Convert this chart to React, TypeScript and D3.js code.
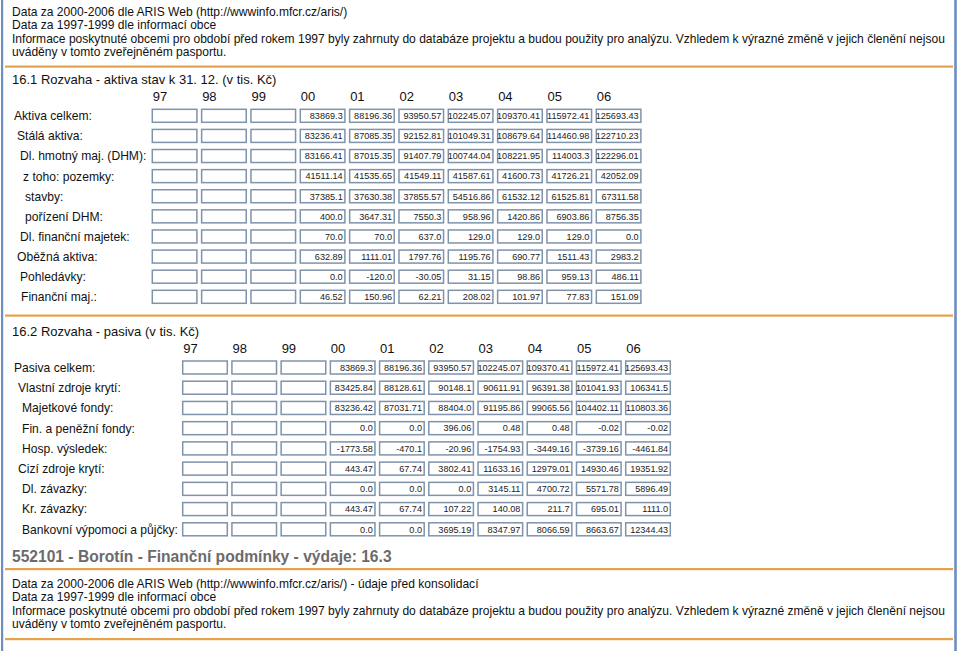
import React from "react";
import * as d3 from "d3";

const years = ["97", "98", "99", "00", "01", "02", "03", "04", "05", "06"];

const introLines = [
  "Data za 2000-2006 dle ARIS Web (http://wwwinfo.mfcr.cz/aris/)",
  "Data za 1997-1999 dle informací obce",
  "Informace poskytnuté obcemi pro období před rokem 1997 byly zahrnuty do databáze projektu a budou použity pro analýzu. Vzhledem k výrazné změně v jejich členění nejsou",
  "uváděny v tomto zveřejněném pasportu.",
];

const outroLines = [
  "Data za 2000-2006 dle ARIS Web (http://wwwinfo.mfcr.cz/aris/) - údaje před konsolidací",
  "Data za 1997-1999 dle informací obce",
  "Informace poskytnuté obcemi pro období před rokem 1997 byly zahrnuty do databáze projektu a budou použity pro analýzu. Vzhledem k výrazné změně v jejich členění nejsou",
  "uváděny v tomto zveřejněném pasportu.",
];

const title1 = "16.1 Rozvaha - aktiva stav k 31. 12. (v tis. Kč)";
const title2 = "16.2 Rozvaha - pasiva (v tis. Kč)";
const title3 = "552101 - Borotín - Finanční podmínky - výdaje: 16.3";

const aktivaLabels = [
  "Aktiva celkem:",
  "Stálá aktiva:",
  "Dl. hmotný maj. (DHM):",
  "z toho: pozemky:",
  "stavby:",
  "pořízení DHM:",
  "Dl. finanční majetek:",
  "Oběžná aktiva:",
  "Pohledávky:",
  "Finanční maj.:",
];
const aktivaIndent = [0, 3, 6, 9, 11, 11, 6, 3, 6, 7];

const aktivaValues: (number | null)[][] = [
  [null, null, null, 83869.3, 88196.36, 93950.57, 102245.07, 109370.41, 115972.41, 125693.43],
  [null, null, null, 83236.41, 87085.35, 92152.81, 101049.31, 108679.64, 114460.98, 122710.23],
  [null, null, null, 83166.41, 87015.35, 91407.79, 100744.04, 108221.95, 114003.3, 122296.01],
  [null, null, null, 41511.14, 41535.65, 41549.11, 41587.61, 41600.73, 41726.21, 42052.09],
  [null, null, null, 37385.1, 37630.38, 37855.57, 54516.86, 61532.12, 61525.81, 67311.58],
  [null, null, null, 400.0, 3647.31, 7550.3, 958.96, 1420.86, 6903.86, 8756.35],
  [null, null, null, 70.0, 70.0, 637.0, 129.0, 129.0, 129.0, 0.0],
  [null, null, null, 632.89, 1111.01, 1797.76, 1195.76, 690.77, 1511.43, 2983.2],
  [null, null, null, 0.0, -120.0, -30.05, 31.15, 98.86, 959.13, 486.11],
  [null, null, null, 46.52, 150.96, 62.21, 208.02, 101.97, 77.83, 151.09],
];

const pasivaLabels = [
  "Pasiva celkem:",
  "Vlastní zdroje krytí:",
  "Majetkové fondy:",
  "Fin. a peněžní fondy:",
  "Hosp. výsledek:",
  "Cizí zdroje krytí:",
  "Dl. závazky:",
  "Kr. závazky:",
  "Bankovní výpomoci a půjčky:",
];
const pasivaIndent = [0, 4, 8, 8, 8, 4, 8, 8, 8];

const pasivaValues: (number | null)[][] = [
  [null, null, null, 83869.3, 88196.36, 93950.57, 102245.07, 109370.41, 115972.41, 125693.43],
  [null, null, null, 83425.84, 88128.61, 90148.1, 90611.91, 96391.38, 101041.93, 106341.5],
  [null, null, null, 83236.42, 87031.71, 88404.0, 91195.86, 99065.56, 104402.11, 110803.36],
  [null, null, null, 0.0, 0.0, 396.06, 0.48, 0.48, -0.02, -0.02],
  [null, null, null, -1773.58, -470.1, -20.96, -1754.93, -3449.16, -3739.16, -4461.84],
  [null, null, null, 443.47, 67.74, 3802.41, 11633.16, 12979.01, 14930.46, 19351.92],
  [null, null, null, 0.0, 0.0, 0.0, 3145.11, 4700.72, 5571.78, 5896.49],
  [null, null, null, 443.47, 67.74, 107.22, 140.08, 211.7, 695.01, 1111.0],
  [null, null, null, 0.0, 0.0, 3695.19, 8347.97, 8066.59, 8663.67, 12344.43],
];

const FONT = "'Liberation Sans', Arial, Helvetica, sans-serif";
const ORANGE = "#e5a24c";
const BLUE = "#6d8fbf";
const BOX = "#7f93ab";

const fmt = (v: number) => {
  const s = String(v);
  return s.includes(".") ? s : s + ".0";
};

type TableProps = {
  labels: string[];
  indents: number[];
  values: (number | null)[][];
  x0: number;
  x1: number;
  y0: number;
  y1: number;
  headerY: number;
  labelX: number;
};

function Table({ labels, indents, values, x0, x1, y0, y1, headerY, labelX }: TableProps) {
  const x = d3.scalePoint<string>().domain(years).range([x0, x1]);
  const y = d3.scalePoint<string>().domain(labels).range([y0, y1]);
  const bw = 44.6;
  const bh = 13;
  return (
    <g>
      {years.map((yr) => (
        <text key={yr} x={x(yr)! + 0.5} y={headerY} fontSize={13} fontFamily={FONT} fill="#111">
          {yr}
        </text>
      ))}
      {labels.map((lab, i) => {
        const cy = y(lab)!;
        return (
          <g key={lab}>
            <text x={labelX + indents[i]} y={cy + 4.4} fontSize={12.1} fontFamily={FONT} fill="#111">
              {lab}
            </text>
            {years.map((yr, j) => {
              const v = values[i][j];
              const bx = x(yr)!;
              return (
                <g key={yr}>
                  <rect
                    x={bx}
                    y={cy - bh / 2}
                    width={bw}
                    height={bh}
                    fill="#fff"
                    stroke={BOX}
                    strokeWidth={1.5}
                  />
                  {v !== null && (
                    <text
                      x={bx + bw - 2.2}
                      y={cy + 3.3}
                      fontSize={9.1}
                      fontFamily={FONT}
                      textAnchor="end"
                      fill="#222"
                    >
                      {fmt(v)}
                    </text>
                  )}
                </g>
              );
            })}
          </g>
        );
      })}
    </g>
  );
}

export default function App() {
  const W = 960;
  const H = 651;
  const introBase = [15.5, 29, 42.5, 56];
  const outroBase = [587.5, 601, 614.5, 628];
  return (
    <svg
      width={W}
      height={H}
      style={{ position: "absolute", left: 0, top: 0, background: "#fff" }}
    >
      <rect x={0} y={0} width={W} height={H} fill="#fff" />
      <rect x={1} y={0} width={2.2} height={H} fill={BLUE} />
      <rect x={954.2} y={0} width={2.6} height={H} fill={BLUE} />

      {introLines.map((t, i) => (
        <text key={"i" + i} x={12} y={introBase[i]} fontSize={12.05} fontFamily={FONT} fill="#111">
          {t}
        </text>
      ))}
      <rect x={5} y={65.5} width={948} height={2.2} fill={ORANGE} />

      <text x={12} y={84} fontSize={13} fontFamily={FONT} fill="#111">
        {title1}
      </text>
      <Table
        labels={aktivaLabels}
        indents={aktivaIndent}
        values={aktivaValues}
        x0={152.3}
        x1={596.3}
        y0={115.8}
        y1={296.8}
        headerY={101}
        labelX={14}
      />

      <rect x={5} y={314.5} width={948} height={2.2} fill={ORANGE} />
      <text x={12} y={336} fontSize={13} fontFamily={FONT} fill="#111">
        {title2}
      </text>
      <Table
        labels={pasivaLabels}
        indents={pasivaIndent}
        values={pasivaValues}
        x0={182.7}
        x1={625.7}
        y0={367.5}
        y1={529.3}
        headerY={352.5}
        labelX={14}
      />

      <text x={12} y={562} fontSize={15.6} fontWeight="bold" fontFamily={FONT} fill="#6b6b6b">
        {title3}
      </text>
      <rect x={5} y={568} width={948} height={2.2} fill={ORANGE} />
      {outroLines.map((t, i) => (
        <text key={"o" + i} x={12} y={outroBase[i]} fontSize={12.05} fontFamily={FONT} fill="#111">
          {t}
        </text>
      ))}
      <rect x={5} y={638} width={948} height={2.2} fill={ORANGE} />
    </svg>
  );
}
